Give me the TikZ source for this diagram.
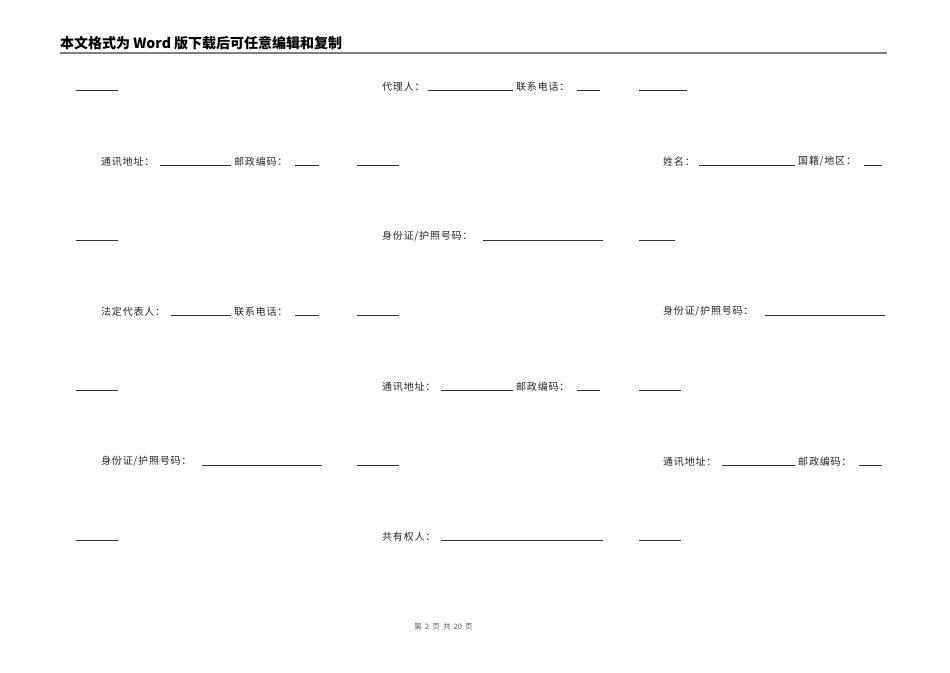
\documentclass[tikz,border=0pt]{standalone}
\usepackage{fontspec}
\setmainfont{Liberation Serif}
\newfontfamily\cjk{Noto Sans CJK SC}
\newfontfamily\cjksp[LetterSpace=8]{Noto Sans CJK SC}
\newcommand{\slsh}{\kern0.5pt/\kern1pt}
\newcommand{\fsp}{\hspace{3.2pt}}
\tikzset{
  lbl/.style={anchor=west, inner sep=0pt, font=\cjksp\fontsize{10}{12}\selectfont, text=black!85},
  uline/.style={line width=0.6pt, draw=black!80},
  hdr/.style={anchor=west, inner sep=0pt, font=\cjk\bfseries\fontsize{14}{16}\selectfont, text=black},
  ftr/.style={inner sep=0pt, font=\cjk\fontsize{7.5}{8}\selectfont, text=black!65},
}
\begin{document}
\begin{tikzpicture}[x=1pt,y=-1pt]
\useasboundingbox[fill=white] (0,0) rectangle (950,672);
% header
\node[hdr] (hd) at (60,43) {本文格式为 Word 版下载后可任意编辑和复制};
\draw[line width=1.5pt, draw=black!50] (60,53) -- (887,53);
% row 1
\def\ry{86.5}\def\ly{90.5}
\draw[uline] (76,\ly) -- (118,\ly);
\node[lbl] (a1) at (382,\ry) {代理人：};
\draw[uline] (428,\ly) -- (513,\ly);
\node[lbl] (a2) at (516,\ry) {联系电话：};
\draw[uline] (577,\ly) -- (600,\ly);
\draw[uline] (639,\ly) -- (687,\ly);
% row 2
\def\ry{161.5}\def\ly{165.5}
\node[lbl] (b1) at (101,\ry) {通讯地址：};
\draw[uline] (160,\ly) -- (231,\ly);
\node[lbl] (b2) at (234,\ry) {邮政编码：};
\draw[uline] (295,\ly) -- (319,\ly);
\draw[uline] (357,\ly) -- (399,\ly);
\node[lbl] (b3) at (663,\ry) {姓名：};
\draw[uline] (699,\ly) -- (795,\ly);
\node[lbl] (b4) at (798,\ry) {国籍\slsh 地区：};
\draw[uline] (864,\ly) -- (882,\ly);
% row 3
\def\ry{236.5}\def\ly{240.5}
\draw[uline] (76,\ly) -- (118,\ly);
\node[lbl] (c1) at (382,\ry) {身份证\slsh 护照号码：};
\draw[uline] (483,\ly) -- (603,\ly);
\draw[uline] (639,\ly) -- (675,\ly);
% row 4
\def\ry{311.5}\def\ly{315.5}
\node[lbl] (d1) at (101,\ry) {法定代表人：};
\draw[uline] (171,\ly) -- (231,\ly);
\node[lbl] (d2) at (234,\ry) {联系电话：};
\draw[uline] (295,\ly) -- (319,\ly);
\draw[uline] (357,\ly) -- (399,\ly);
\node[lbl] (d3) at (663,\ry) {身份证\slsh 护照号码：};
\draw[uline] (765,\ly) -- (885,\ly);
% row 5
\def\ry{386.5}\def\ly{390.5}
\draw[uline] (76,\ly) -- (118,\ly);
\node[lbl] (e1) at (382,\ry) {通讯地址：};
\draw[uline] (441,\ly) -- (513,\ly);
\node[lbl] (e2) at (516,\ry) {邮政编码：};
\draw[uline] (577,\ly) -- (600,\ly);
\draw[uline] (639,\ly) -- (681,\ly);
% row 6
\def\ry{461.5}\def\ly{465.5}
\node[lbl] (f1) at (101,\ry) {身份证\slsh 护照号码：};
\draw[uline] (202,\ly) -- (322,\ly);
\draw[uline] (357,\ly) -- (399,\ly);
\node[lbl] (f2) at (663,\ry) {通讯地址：};
\draw[uline] (722,\ly) -- (795,\ly);
\node[lbl] (f3) at (798,\ry) {邮政编码：};
\draw[uline] (859,\ly) -- (882,\ly);
% row 7
\def\ry{536.5}\def\ly{540.5}
\draw[uline] (76,\ly) -- (118,\ly);
\node[lbl] (g1) at (382,\ry) {共有权人：};
\draw[uline] (441,\ly) -- (603,\ly);
\draw[uline] (639,\ly) -- (681,\ly);
% footer
\node[ftr] (ft) at (443.5,627) {第\fsp 2\fsp 页\fsp 共\fsp 20\fsp 页};
\end{tikzpicture}
\end{document}
